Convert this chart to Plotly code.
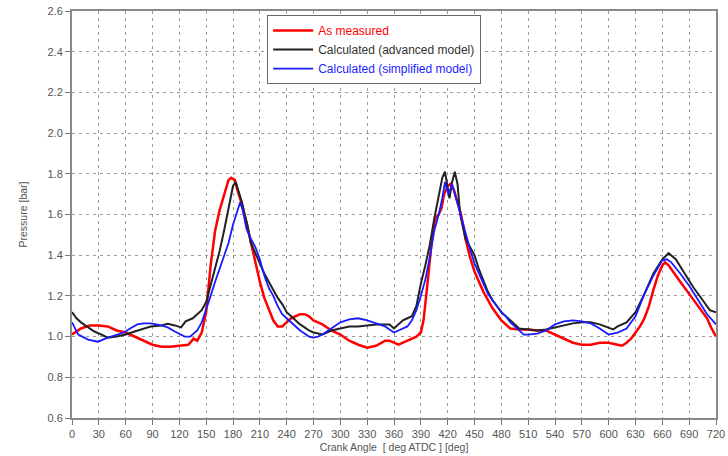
import plotly.graph_objects as go

# ---------------- data ----------------
meas_deg = [0, 10, 20, 30, 40, 50, 60, 70, 80, 90, 100, 110, 120, 130, 136, 140, 145, 150, 155,
            160, 165, 170, 175, 178, 182, 185, 190, 195, 200, 205, 210, 215, 220, 225, 230, 235,
            240, 245, 250, 255, 260, 265, 270, 280, 290, 300, 310, 320, 330, 340, 350, 355, 360,
            365, 370, 375, 380, 385, 390, 393, 396, 400, 403, 406, 410, 413, 416, 420, 423, 427,
            431, 435, 440, 445, 450, 455, 460, 470, 480, 490, 500, 510, 520, 530, 540, 550, 560,
            570, 580, 590, 600, 610, 615, 620, 625, 630, 635, 640, 645, 650, 655, 660, 663, 667, 670,
            680, 690, 700, 710, 715, 720]
meas_p = [1.01, 1.04, 1.055, 1.055, 1.05, 1.03, 1.02, 1.0, 0.98, 0.96, 0.95, 0.95, 0.955, 0.96, 0.99,
          0.98, 1.02, 1.12, 1.35, 1.52, 1.62, 1.70, 1.77, 1.78, 1.77, 1.72, 1.65, 1.56, 1.46, 1.36,
          1.27, 1.19, 1.13, 1.08, 1.05, 1.05, 1.07, 1.09, 1.10, 1.11, 1.11, 1.10, 1.08, 1.06, 1.03,
          1.01, 0.98, 0.96, 0.945, 0.955, 0.98, 0.98, 0.97, 0.96, 0.97, 0.98, 0.99, 1.0, 1.02, 1.08,
          1.2, 1.38, 1.5, 1.58, 1.6, 1.63, 1.7, 1.74, 1.75, 1.72, 1.66, 1.6, 1.48, 1.39, 1.32, 1.27,
          1.22, 1.14, 1.08, 1.04, 1.035, 1.035, 1.03, 1.03, 1.01, 0.99, 0.97, 0.96, 0.96, 0.97, 0.97,
          0.96, 0.955, 0.97, 0.99, 1.02, 1.05, 1.09, 1.15, 1.23, 1.3, 1.35, 1.365, 1.35, 1.33, 1.27,
          1.21, 1.15, 1.09, 1.04, 1.0]

adv_deg = [0, 5, 10, 18, 25, 33, 40, 50, 60, 70, 80, 88, 100, 107, 115, 122, 127, 135, 140, 145,
           150, 155, 160, 165, 170, 175, 180, 183, 186, 190, 193, 196, 200, 205, 210, 215, 220,
           225, 230, 235, 240, 245, 250, 255, 260, 265, 270, 280, 290, 300, 310, 320, 330, 340,
           350, 355, 360, 365, 370, 375, 380, 385, 390, 395, 400, 405, 410, 414, 417, 420, 422,
           425, 428, 431, 434, 440, 445, 450, 455, 460, 465, 470, 475, 480, 490, 500, 510, 520,
           530, 540, 550, 560, 570, 580, 590, 600, 605, 610, 620, 630, 640, 650, 660, 667, 675,
           685, 695, 705, 713, 720]
adv_p = [1.12, 1.09, 1.07, 1.045, 1.025, 1.01, 0.995, 1.0, 1.01, 1.025, 1.04, 1.05, 1.055, 1.063,
         1.055, 1.045, 1.075, 1.09, 1.11, 1.13, 1.17, 1.25, 1.34, 1.42, 1.52, 1.64, 1.74, 1.76,
         1.72, 1.66, 1.6, 1.55, 1.46, 1.41, 1.36, 1.31, 1.27, 1.23, 1.19, 1.16, 1.12, 1.1, 1.08,
         1.06, 1.045, 1.03, 1.02, 1.01, 1.03, 1.04, 1.05, 1.05, 1.055, 1.06, 1.06, 1.06, 1.04,
         1.06, 1.08, 1.09, 1.1, 1.15, 1.26, 1.35, 1.45, 1.58, 1.69, 1.78, 1.81, 1.74, 1.68, 1.76,
         1.81, 1.75, 1.6, 1.48, 1.44, 1.4, 1.33, 1.27, 1.22, 1.18, 1.15, 1.12, 1.08, 1.04, 1.035,
         1.03, 1.035, 1.045, 1.055, 1.065, 1.07, 1.07, 1.06, 1.045, 1.035, 1.05, 1.07, 1.12, 1.21,
         1.31, 1.38, 1.41, 1.38, 1.31, 1.24, 1.18, 1.13, 1.12]

simp_deg = [0, 7, 18, 29, 40, 50, 58, 65, 73, 80, 88, 100, 107, 115, 126, 132, 137, 140, 145, 150,
            155, 160, 165, 170, 175, 180, 185, 188, 191, 195, 200, 205, 210, 215, 220, 225, 230,
            235, 240, 245, 250, 255, 260, 265, 270, 275, 280, 290, 300, 310, 320, 330, 340, 350,
            355, 360, 365, 370, 375, 380, 385, 390, 395, 400, 405, 410, 414, 417, 421, 425, 428,
            432, 436, 440, 445, 450, 455, 460, 465, 470, 475, 480, 485, 490, 495, 500, 505, 510,
            520, 530, 540, 550, 560, 570, 580, 590, 600, 610, 620, 630, 640, 650, 660, 665, 670,
            680, 690, 700, 710, 720]
simp_p = [1.07, 1.01, 0.985, 0.975, 0.995, 1.01, 1.02, 1.04, 1.06, 1.065, 1.065, 1.055, 1.045, 1.025,
          1.0, 1.0, 1.02, 1.03, 1.07, 1.13, 1.2, 1.27, 1.33, 1.39, 1.46, 1.55, 1.62, 1.66, 1.62,
          1.53, 1.48, 1.44, 1.38, 1.3, 1.24, 1.2, 1.15, 1.11, 1.09, 1.07, 1.05, 1.03, 1.015, 1.0,
          0.995, 1.0, 1.01, 1.04, 1.07, 1.085, 1.09, 1.08, 1.065, 1.05, 1.035, 1.02, 1.03, 1.04,
          1.05, 1.08, 1.13, 1.2, 1.28, 1.39, 1.52, 1.6, 1.68, 1.76, 1.7, 1.75, 1.7, 1.63, 1.57,
          1.51, 1.43, 1.36, 1.31, 1.26, 1.21, 1.18, 1.15, 1.12, 1.1, 1.07, 1.05, 1.03, 1.01, 1.01,
          1.015, 1.03, 1.06, 1.075, 1.08, 1.075, 1.065, 1.04, 1.01, 1.02, 1.04, 1.1, 1.21, 1.3,
          1.375, 1.38, 1.365, 1.31, 1.25, 1.18, 1.11, 1.06]

x_ticks = list(range(0, 721, 30))
y_ticks = [0.6, 0.8, 1.0, 1.2, 1.4, 1.6, 1.8, 2.0, 2.2, 2.4, 2.6]

names = ['<span style="color:#ff0000">As measured</span>',
         '<span style="color:#333333">Calculated (advanced model)</span>',
         '<span style="color:#2222ff">Calculated (simplified model)</span>']

fig = go.Figure()
fig.add_trace(go.Scatter(x=meas_deg, y=meas_p, mode="lines", name=names[0],
                         line=dict(color="#ff0000", width=2.5)))
fig.add_trace(go.Scatter(x=adv_deg, y=adv_p, mode="lines", name=names[1],
                         line=dict(color="#222222", width=2)))
fig.add_trace(go.Scatter(x=simp_deg, y=simp_p, mode="lines", name=names[2],
                         line=dict(color="#1a1aff", width=1.8)))

axis_common = dict(
    showline=True, linecolor="#8a8a8a", linewidth=2, mirror=True,
    ticks="outside", ticklen=5, tickcolor="#777777", tickwidth=1,
    showgrid=True, gridcolor="#9a9a9a", gridwidth=1, griddash="3px,4px",
    zeroline=False, automargin=False,
    tickfont=dict(family="Arial, Liberation Sans, sans-serif", size=11, color="#555555"),
)

fig.update_layout(
    width=728, height=456,
    margin=dict(l=72, r=12, t=11, b=38),
    paper_bgcolor="white", plot_bgcolor="white",
    font=dict(family="Arial, Liberation Sans, sans-serif", size=11, color="#555555"),
    showlegend=True,
    legend=dict(x=0.303, y=0.99, xanchor="left", yanchor="top",
                bordercolor="#666666", borderwidth=1, bgcolor="white",
                font=dict(size=12), itemwidth=40, tracegroupgap=0),
    xaxis=dict(range=[0, 720], tickvals=x_ticks,
               title=dict(text="Crank Angle  [ deg ATDC ] [deg]", standoff=4,
                          font=dict(size=10.5, color="#555555")),
               **axis_common),
    yaxis=dict(range=[0.6, 2.6], tickvals=y_ticks, tickformat=".1f",
               title=dict(text="Pressure [bar]", standoff=18,
                          font=dict(size=10.5, color="#555555")),
               **axis_common),
)

fig.write_html("out.html")
